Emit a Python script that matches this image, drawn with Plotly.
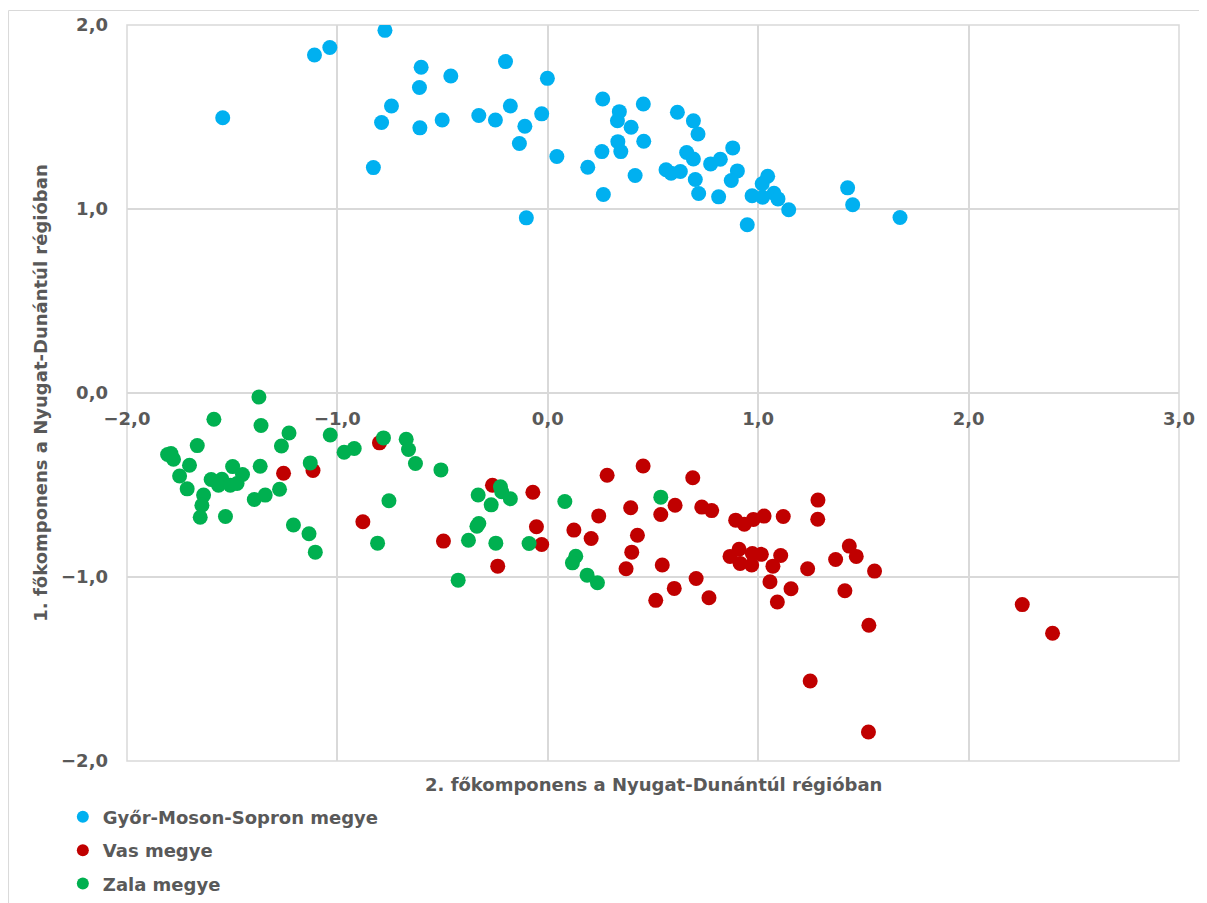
import plotly.graph_objects as go

# főkomponens értékek megyénként (2. főkomponens = x, 1. főkomponens = y)
gyor_x = [-1.545, -1.109, -1.036, -0.774, -0.602, -0.461, -0.610, -0.201, -0.002, -0.743,
          -0.790, -0.608, -0.502, -0.328, -0.249, -0.178, -0.029, -0.109, -0.135, -0.829,
          -0.102, 0.043, 0.261, 0.340, 0.331, 0.454, 0.396, 0.333, 0.347, 0.456,
          0.257, 0.190, 0.415, 0.264, 0.616, 0.692, 0.714, 0.660, 0.692, 0.562,
          0.586, 0.630, 0.701, 0.717, 0.774, 0.820, 0.879, 0.901, 0.872, 0.812,
          0.948, 0.971, 1.021, 1.019, 1.045, 1.075, 1.094, 1.145, 1.425, 1.449, 1.674]
gyor_y = [1.496, 1.837, 1.878, 1.971, 1.770, 1.723, 1.660, 1.801, 1.710, 1.560,
          1.470, 1.441, 1.484, 1.508, 1.484, 1.560, 1.517, 1.450, 1.356, 1.225,
          0.952, 1.285, 1.598, 1.529, 1.480, 1.571, 1.444, 1.366, 1.312, 1.368,
          1.312, 1.227, 1.182, 1.079, 1.526, 1.479, 1.408, 1.307, 1.272, 1.213,
          1.194, 1.204, 1.160, 1.084, 1.245, 1.270, 1.332, 1.207, 1.155, 1.066,
          0.914, 1.072, 1.064, 1.137, 1.178, 1.086, 1.055, 0.996, 1.115, 1.023, 0.954]

vas_x = [-1.256, -1.116, -0.800, -0.879, -0.496, -0.263, -0.238, -0.071, -0.054, -0.029,
         0.282, 0.124, 0.206, 0.242, 0.394, 0.426, 0.399, 0.372, 0.453, 0.689,
         0.537, 0.605, 0.544, 0.513, 0.601, 0.705, 0.766, 0.732, 0.779, 0.893,
         0.934, 0.977, 1.028, 1.119, 1.284, 1.283, 0.909, 0.866, 0.914, 0.972,
         0.969, 1.015, 1.107, 1.070, 1.056, 1.091, 1.156, 1.235, 1.368, 1.433,
         1.466, 1.553, 1.412, 1.526, 2.255, 2.399, 1.247, 1.524]
vas_y = [-0.436, -0.421, -0.271, -0.700, -0.805, -0.501, -0.941, -0.539, -0.727, -0.823,
         -0.447, -0.745, -0.791, -0.668, -0.624, -0.773, -0.865, -0.955, -0.397, -0.461,
         -0.660, -0.610, -0.935, -1.127, -1.062, -1.008, -1.113, -0.620, -0.639, -0.691,
         -0.713, -0.687, -0.669, -0.671, -0.582, -0.686, -0.849, -0.888, -0.926, -0.872,
         -0.935, -0.877, -0.883, -0.941, -1.026, -1.136, -1.064, -0.955, -0.905, -0.832,
         -0.888, -0.968, -1.075, -1.262, -1.150, -1.306, -1.565, -1.842]

zala_x = [-1.373, -1.587, -1.363, -1.230, -1.266, -1.666, -1.034, -1.791, -1.779, -1.807,
          -1.703, -1.750, -1.714, -1.498, -1.451, -1.600, -1.549, -1.565, -1.509, -1.477,
          -1.636, -1.644, -1.652, -1.532, -1.367, -1.395, -1.343, -1.275, -1.209, -1.135,
          -1.105, -1.129, -0.968, -0.920, -0.781, -0.673, -0.662, -0.629, -0.508, -0.755,
          -0.809, -0.426, -0.331, -0.269, -0.225, -0.219, -0.178, -0.328, -0.337, -0.377,
          -0.247, -0.089, 0.081, 0.133, 0.117, 0.187, 0.236, 0.537]
zala_y = [-0.022, -0.143, -0.177, -0.217, -0.288, -0.286, -0.228, -0.329, -0.360, -0.334,
          -0.393, -0.451, -0.521, -0.400, -0.443, -0.470, -0.469, -0.501, -0.501, -0.492,
          -0.555, -0.610, -0.675, -0.671, -0.398, -0.579, -0.555, -0.523, -0.717, -0.765,
          -0.865, -0.380, -0.322, -0.302, -0.244, -0.251, -0.307, -0.383, -0.418, -0.586,
          -0.816, -1.017, -0.554, -0.608, -0.510, -0.537, -0.575, -0.709, -0.724, -0.800,
          -0.816, -0.818, -0.590, -0.887, -0.923, -0.990, -1.031, -0.566]

tick_vals = [-2, -1, 0, 1, 2, 3]

TEXT = "#595959"
GRID = "#D9D9D9"
FONT = "DejaVu Sans"

fig = go.Figure()
for name, xs, ys, color in [
    ("Győr-Moson-Sopron megye", gyor_x, gyor_y, "#00B0F0"),
    ("Vas megye", vas_x, vas_y, "#C00000"),
    ("Zala megye", zala_x, zala_y, "#00B050"),
]:
    fig.add_trace(go.Scatter(x=xs, y=ys, mode="markers", name=name, legendgroup=name,
                             marker=dict(size=15, color=color, line=dict(width=0))))

tick_font = dict(family=FONT, size=18, color=TEXT, weight="bold")

# a lap alja kilóg az ablakból, így a jelmagyarázat nem tolja el a rajzterületet
fig.update_layout(
    width=1207, height=923,
    margin=dict(l=119, r=36, t=17, b=170),
    paper_bgcolor="white", plot_bgcolor="white",
    separators=", ",
    font=dict(family=FONT, color=TEXT),
    xaxis=dict(range=[-2, 3], tickvals=tick_vals, tickformat=".1f",
               showgrid=True, gridcolor=GRID, gridwidth=1.5, zeroline=False,
               showline=False, anchor="free", position=0.5, automargin=False,
               ticks="", ticklabelstandoff=13, tickfont=tick_font),
    yaxis=dict(range=[-2, 2], dtick=1, tickformat=".1f", automargin=False,
               showgrid=True, gridcolor=GRID, gridwidth=1.5, zeroline=False,
               showline=False, ticks="", ticklabelstandoff=18, tickfont=tick_font),
    legend=dict(x=-0.061, y=-0.051, xanchor="left", yanchor="top",
                font=dict(family=FONT, size=18, color=TEXT, weight="bold"),
                itemsizing="constant", tracegroupgap=7, itemwidth=30),
    showlegend=True,
)

# keret a rajzterület körül és a teljes diagram körül
fig.add_shape(type="rect", xref="paper", yref="paper", x0=0, x1=1, y0=0, y1=1,
              line=dict(color=GRID, width=1.5), layer="below")
fig.add_shape(type="rect", xref="paper", yref="paper", x0=-0.1126, x1=1.1, y0=-0.3, y1=1.0197,
              line=dict(color=GRID, width=1), layer="below")

fig.add_annotation(text="2. főkomponens a Nyugat-Dunántúl régióban",
                   xref="paper", yref="paper", x=0.5, y=-0.0326, showarrow=False,
                   xanchor="center", yanchor="middle",
                   font=dict(family=FONT, size=18, color=TEXT, weight="bold"))
fig.add_annotation(text="1. főkomponens a Nyugat-Dunántúl régióban",
                   xref="paper", yref="paper", x=-0.083, y=0.5, showarrow=False,
                   textangle=-90, xanchor="center", yanchor="middle",
                   font=dict(family=FONT, size=18, color=TEXT, weight="bold"))

fig.write_html("out.html")
